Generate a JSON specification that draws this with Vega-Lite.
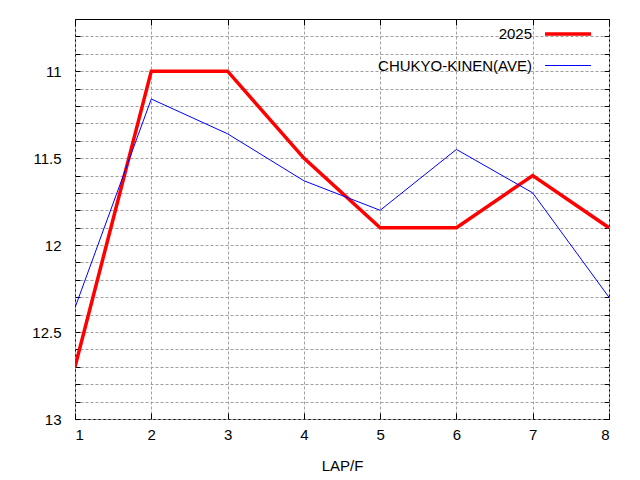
{
  "$schema": "https://vega.github.io/schema/vega-lite/v6.json",
  "width": 534,
  "height": 400,
  "autosize": "none",
  "padding": {"left": 75, "top": 19, "right": 31, "bottom": 61},
  "background": "white",
  "config": {
    "font": "Liberation Sans",
    "view": {"stroke": "black", "strokeWidth": 1},
    "axis": {
      "labelFont": "Liberation Sans",
      "titleFont": "Liberation Sans",
      "labelFontSize": 15,
      "titleFontSize": 15,
      "labelColor": "black",
      "titleColor": "black",
      "titleFontWeight": "normal",
      "domain": false,
      "tickColor": "black",
      "gridColor": "#a0a0a0",
      "gridDash": [3, 2],
      "gridOpacity": 1
    }
  },
  "data": {
    "values": [
      {"lap": 1, "time": 12.7, "series": "2025"},
      {"lap": 2, "time": 11.0, "series": "2025"},
      {"lap": 3, "time": 11.0, "series": "2025"},
      {"lap": 4, "time": 11.5, "series": "2025"},
      {"lap": 5, "time": 11.9, "series": "2025"},
      {"lap": 6, "time": 11.9, "series": "2025"},
      {"lap": 7, "time": 11.6, "series": "2025"},
      {"lap": 8, "time": 11.9, "series": "2025"},
      {"lap": 1, "time": 12.36, "series": "CHUKYO-KINEN(AVE)"},
      {"lap": 2, "time": 11.16, "series": "CHUKYO-KINEN(AVE)"},
      {"lap": 3, "time": 11.36, "series": "CHUKYO-KINEN(AVE)"},
      {"lap": 4, "time": 11.63, "series": "CHUKYO-KINEN(AVE)"},
      {"lap": 5, "time": 11.8, "series": "CHUKYO-KINEN(AVE)"},
      {"lap": 6, "time": 11.45, "series": "CHUKYO-KINEN(AVE)"},
      {"lap": 7, "time": 11.7, "series": "CHUKYO-KINEN(AVE)"},
      {"lap": 8, "time": 12.3, "series": "CHUKYO-KINEN(AVE)"}
    ]
  },
  "layer": [
    {
      "mark": {"type": "line", "clip": true},
      "encoding": {
        "x": {
          "field": "lap",
          "type": "quantitative",
          "scale": {"domain": [1, 8], "nice": false},
          "axis": {
            "title": "LAP/F",
            "values": [1, 2, 3, 4, 5, 6, 7, 8],
            "format": "d",
            "grid": true,
            "tickSize": -6,
            "labelPadding": 14,
            "titlePadding": 16
          }
        },
        "y": {
          "field": "time",
          "type": "quantitative",
          "scale": {"domain": [10.7, 13], "nice": false, "zero": false, "reverse": true},
          "axis": {
            "title": null,
            "values": [10.8, 10.9, 11, 11.1, 11.2, 11.3, 11.4, 11.5, 11.6, 11.7, 11.8, 11.9, 12, 12.1, 12.2, 12.3, 12.4, 12.5, 12.6, 12.7, 12.8, 12.9, 13],
            "labelExpr": "abs(datum.value * 2 - round(datum.value * 2)) < 0.001 ? toString(datum.value) : ''",
            "grid": true,
            "tickSize": -5,
            "labelPadding": 19
          }
        },
        "color": {
          "field": "series",
          "type": "nominal",
          "scale": {"domain": ["2025", "CHUKYO-KINEN(AVE)"], "range": ["#ff0000", "#0000ff"]},
          "legend": {
            "title": null,
            "orient": "none",
            "legendX": 468,
            "legendY": -10,
            "padding": 0,
            "symbolType": "stroke",
            "symbolSize": 2116,
            "labelFontSize": 15,
            "labelFont": "Liberation Sans",
            "labelColor": "black",
            "labelAlign": "right",
            "labelLimit": 400,
            "labelOffset": -61,
            "symbolOffset": 0,
            "rowPadding": -40
          }
        },
        "strokeWidth": {
          "field": "series",
          "type": "nominal",
          "scale": {"domain": ["2025", "CHUKYO-KINEN(AVE)"], "range": [3.5, 1]},
          "legend": null
        }
      }
    },
    {
      "mark": {"type": "line", "opacity": 0},
      "encoding": {
        "x": {
          "field": "lap",
          "type": "quantitative",
          "scale": {"domain": [1, 8], "nice": false},
          "axis": {
            "orient": "top",
            "title": null,
            "values": [1, 2, 3, 4, 5, 6, 7, 8],
            "labels": false,
            "grid": false,
            "tickSize": -6
          }
        },
        "y": {
          "field": "time",
          "type": "quantitative",
          "scale": {"domain": [10.7, 13], "nice": false, "zero": false, "reverse": true},
          "axis": {
            "orient": "right",
            "title": null,
            "values": [10.8, 10.9, 11, 11.1, 11.2, 11.3, 11.4, 11.5, 11.6, 11.7, 11.8, 11.9, 12, 12.1, 12.2, 12.3, 12.4, 12.5, 12.6, 12.7, 12.8, 12.9, 13],
            "labels": false,
            "grid": false,
            "tickSize": -5
          }
        },
        "detail": {"field": "series", "type": "nominal"}
      }
    }
  ],
  "resolve": {
    "scale": {"x": "independent", "y": "independent"},
    "axis": {"x": "independent", "y": "independent"}
  }
}
